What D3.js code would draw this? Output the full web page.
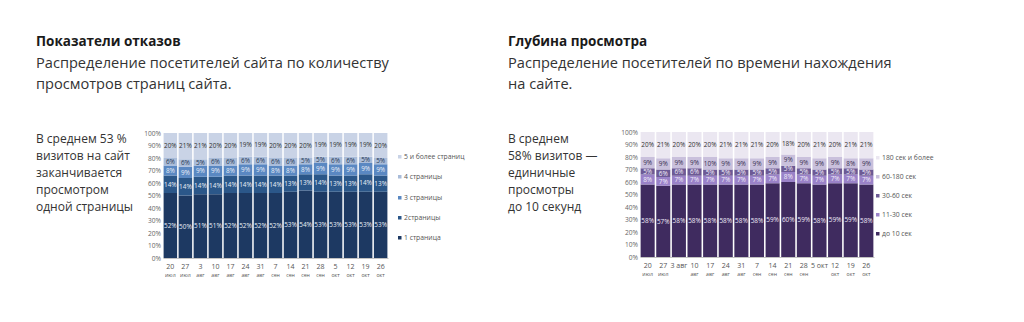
<!DOCTYPE html>
<html><head><meta charset="utf-8">
<script src="https://cdn.jsdelivr.net/npm/d3@7"></script>
<style>
body{margin:0;background:#fff;}
svg{display:block;font-family:"Open Sans",sans-serif;}
</style></head>
<body><svg id="c" width="1024" height="322"></svg>
<script>
const days = ["20","27","3","10","17","24","31","7","14","21","28","5","12","19","26"];
const months = ["июл","июл","авг","авг","авг","авг","авг","сен","сен","сен","сен","окт","окт","окт","окт"];
const yTicks = [0,10,20,30,40,50,60,70,80,90,100];

// Left chart: pages per visit
const pages1 = [52,50,51,51,52,52,52,52,53,54,53,53,53,53,53];
const pages2 = [14,14,14,14,14,14,14,14,13,13,14,13,13,14,13];
const pages3 = [8,9,9,9,8,9,9,8,8,8,9,9,9,9,9];
const pages4 = [6,6,5,6,6,6,6,6,6,5,5,6,6,5,5];
const pages5 = [20,21,21,20,20,19,19,20,20,20,19,19,19,19,20];
const pagesNames = ["1 страница","2страницы","3 страницы","4 страницы","5 и более страниц"];

// Right chart: time on site
const sec10 = [58,57,58,58,58,58,58,58,59,60,59,58,59,59,58];
const sec30 = [8,7,7,7,7,7,7,7,7,8,7,7,7,7,7];
const sec60 = [5,6,6,6,5,5,5,5,5,5,5,5,5,5,5];
const sec180 = [9,9,9,9,10,9,9,9,9,9,9,9,9,8,9];
const sec180p = [20,21,20,20,20,21,21,21,20,18,20,21,20,21,21];
const secNames = ["до 10 сек","11-30 сек","30-60 сек","60-180 сек","180 сек и более"];
// single-line labels on the right chart
const rightSingle = [2,11];

const svg = d3.select("#c");

function textBlock(x, y, lines, size, lh, weight, color){
  const t = svg.append("text").attr("x",x).attr("y",y)
    .attr("font-size",size).attr("font-weight",weight).attr("fill",color);
  lines.forEach((l,i)=>t.append("tspan").attr("x",x).attr("y",y+i*lh).text(l));
}

// Headers
textBlock(36,46,["Показатели отказов"],13.5,0,700,"#1a1a1a");
textBlock(36,68,["Распределение посетителей сайта по количеству","просмотров страниц сайта."],14.6,21,400,"#333");
textBlock(508,46,["Глубина просмотра"],13.5,0,700,"#1a1a1a");
textBlock(508,68,["Распределение посетителей по времени нахождения","на сайте."],14.6,21,400,"#333");

textBlock(36,143,["В среднем 53 %","визитов на сайт","заканчивается","просмотром","одной страницы"],12,17,400,"#333");
textBlock(508,143,["В среднем","58% визитов —","единичные","просмотры","до 10 секунд"],12,17,400,"#333");

function drawChart(opt){
  const series = opt.series;
  const n = days.length;
  const x = d3.scaleBand().domain(d3.range(n)).range([opt.x0,opt.x1]).paddingInner(0.1).paddingOuter(0.04);
  const y = d3.scaleLinear().domain([0,100]).range([opt.y0,opt.y1]);
  const g = svg.append("g");
  // y axis labels
  const ya = d3.axisLeft(y).tickValues(yTicks).tickFormat(d=>d+"%").tickSize(0).tickPadding(2);
  g.append("g").attr("transform",`translate(${opt.x0},0)`).call(ya)
    .call(s=>s.select(".domain").remove())
    .call(s=>s.selectAll("text").attr("font-size",6.6).attr("fill","#666").attr("font-family","Open Sans, sans-serif"));
  // stacked bars
  const rows = d3.range(n).map(i=>{const o={i}; series.forEach((s,k)=>o["s"+k]=s[i]); return o;});
  const stack = d3.stack().keys(series.map((s,k)=>"s"+k))(rows);
  stack.forEach((layer,k)=>{
    const lg = g.append("g");
    lg.selectAll("rect").data(layer).join("rect")
      .attr("x",d=>x(d.data.i)).attr("width",x.bandwidth())
      .attr("y",d=>y(d[1])).attr("height",d=>y(d[0])-y(d[1]))
      .attr("fill",opt.colors[k]);
    lg.selectAll("text").data(layer).join("text")
      .attr("x",d=>x(d.data.i)+x.bandwidth()/2)
      .attr("y",d=>(y(d[0])+y(d[1]))/2+2.3)
      .attr("text-anchor","middle").attr("font-size",6.4)
      .attr("fill",opt.labelColors[k])
      .text(d=>(d[1]-d[0])+"%");
  });
  // baseline axis
  const xa = d3.axisBottom(x).tickSize(0).tickFormat("");
  g.append("g").attr("transform",`translate(0,${opt.y0})`).call(xa)
    .call(s=>s.select(".domain").attr("stroke","#999").attr("stroke-width",0.6));
  // x labels
  const xl = g.append("g");
  d3.range(n).forEach(i=>{
    const cx = x(i)+x.bandwidth()/2;
    if(opt.single && opt.single.includes(i)){
      xl.append("text").attr("x",cx).attr("y",opt.y0+11).attr("text-anchor","middle")
        .attr("font-size",7).attr("fill","#555").text(days[i]+" "+months[i]);
    } else {
      xl.append("text").attr("x",cx).attr("y",opt.y0+11).attr("text-anchor","middle")
        .attr("font-size",7).attr("fill","#555").text(days[i]);
      xl.append("text").attr("x",cx).attr("y",opt.y0+19).attr("text-anchor","middle")
        .attr("font-size",5.2).attr("fill","#555").text(months[i]);
    }
  });
  // legend
  const lgd = g.append("g");
  opt.names.forEach((nm,k)=>{
    const ly = opt.legY[k];
    lgd.append("rect").attr("x",opt.legX).attr("y",ly-4).attr("width",3.5).attr("height",3.5).attr("fill",opt.colors[k]);
    lgd.append("text").attr("x",opt.legX+6).attr("y",ly).attr("font-size",6.8).attr("fill","#555").text(nm);
  });
}

drawChart({
  series:[pages1,pages2,pages3,pages4,pages5],
  names:pagesNames,
  colors:["#1d3962","#2b5789","#5a88c2","#a9bcd9","#c9d3e6"],
  labelColors:["#e8eef7","#e8eef7","#e8eef7","#2a3a55","#333"],
  x0:163,x1:388,y0:258,y1:133,
  legX:398,legY:[240,220,200,179,159]
});
drawChart({
  series:[sec10,sec30,sec60,sec180,sec180p],
  names:secNames,
  colors:["#3f2b5f","#9a82c8","#6d5a95","#c9c0dc","#ebe7f1"],
  labelColors:["#efeaf7","#f2eefa","#f2eefa","#3a3050","#333"],
  x0:640,x1:874,y0:257,y1:132,
  single:rightSingle,
  legX:876,legY:[236,217,198,179,160]
});
</script></body></html>
